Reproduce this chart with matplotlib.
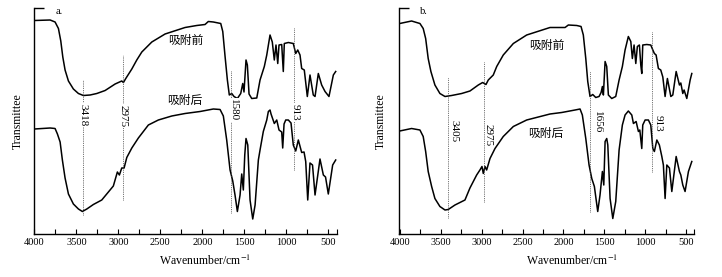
import matplotlib
matplotlib.use("Agg")
import matplotlib.pyplot as plt
from matplotlib.ticker import FixedLocator, NullFormatter

plt.rcParams['font.family'] = ['Liberation Serif', 'Noto Sans CJK SC']
plt.rcParams['mathtext.fontset'] = 'stix'

# ---- panel a: spectra (wavenumber / cm-1, transmittance in arbitrary units)
a_top_wn = [4000, 3813, 3754, 3714, 3686, 3662, 3635, 3595, 3536, 3476, 3417, 3337, 3257,
            3158, 3039, 2960, 2940, 2912, 2840, 2781, 2721, 2602, 2444, 2206, 2067, 1968,
            1929, 1869, 1781, 1757, 1730, 1702, 1679, 1650, 1623, 1583, 1543, 1519, 1504,
            1480, 1464, 1444, 1412, 1352, 1313, 1262, 1233, 1194, 1167, 1143, 1123, 1102,
            1087, 1055, 1036, 1024, 976, 917, 888, 864, 837, 817, 786, 750, 718, 679, 658,
            619, 579, 539, 492, 440, 412]
a_top_t = [213, 213.5, 211.5, 205, 192.5, 176.5, 163.5, 152.5, 144.5, 140, 138, 138.5, 140,
           143, 149.5, 152.5, 151, 155, 164.5, 173.5, 181.5, 191.5, 199.5, 206, 208, 209,
           212, 211.5, 210, 202, 177.5, 153.5, 138.5, 140, 137, 135, 140, 150, 141.5,
           173.5, 168.5, 139.5, 135, 135.5, 153.5, 167, 178.5, 198.5, 191.5, 173.5, 188.5, 170,
           188.5, 189, 162, 190, 191, 190, 180, 183.5, 178.5, 165, 163.5, 137, 158.5, 138.5, 137,
           160, 148.5, 142, 137, 158.5, 162]

a_bot_wn = [4000, 3813, 3754, 3726, 3694, 3667, 3635, 3595, 3536, 3476, 3429, 3376, 3298,
            3198, 3119, 3060, 3012, 2988, 2960, 2932, 2900, 2840, 2762, 2643, 2524, 2364,
            2206, 2027, 1869, 1789, 1750, 1710, 1670, 1638, 1611, 1583, 1551, 1531, 1512,
            1495, 1480, 1459, 1432, 1400, 1372, 1333, 1313, 1274, 1233, 1214, 1194, 1182,
            1143, 1114, 1087, 1055, 1043, 1027, 1007, 976, 944, 917, 888, 857, 817, 789, 769,
            745, 718, 688, 658, 599, 559, 533, 500, 448, 412]
a_bot_t = [104.5, 105.5, 105, 99.5, 91.5, 73.5, 55.5, 39.5, 29.5, 24.5, 22, 24.5, 29,
           33.5, 41.5, 47.5, 61.5, 58.5, 65.5, 65.5, 76, 85.5, 95.5, 108.5, 113.5, 117.5,
           120, 122, 124.5, 124, 117.5, 93.5, 63.5, 52.5, 38.5, 22, 38.5, 59.5, 43.5,
           78.5, 95, 88.5, 33.5, 14.5, 28.5, 73.5, 83.5, 102, 113.5, 122, 123.5, 119.5,
           110, 113.5, 103.5, 101.5, 85.5, 109.5, 113.5, 113.5, 110.5, 88.5, 82.5, 93.5, 81, 81.5, 72,
           33.5, 70.5, 68.5, 38.5, 74.5, 58.5, 56.5, 39.5, 68.5, 73.5]

# ---- panel b
b_top_wn = [4000, 3855, 3753, 3713, 3683, 3652, 3619, 3570, 3509, 3447, 3366, 3243, 3142,
            3040, 2987, 2946, 2918, 2857, 2815, 2735, 2612, 2449, 2164, 1980, 1940, 1837,
            1785, 1757, 1727, 1703, 1675, 1642, 1605, 1565, 1540, 1524, 1512, 1491, 1471,
            1451, 1410, 1361, 1320, 1280, 1247, 1207, 1177, 1158, 1137, 1116, 1097, 1072,
            1055, 1043, 1031, 982, 933, 908, 889, 868, 840, 811, 786, 758, 730, 688, 664,
            623, 583, 566, 542, 526, 493, 452, 432]
b_top_t = [210, 212.5, 210, 205, 195, 175, 162, 148.5, 140, 137, 138, 140, 142.5,
           148.5, 151, 149, 153.5, 158.5, 167, 178.5, 190, 198.5, 206, 206, 208.5, 208,
           207, 198.5, 175, 152, 137, 139, 136, 137, 141, 147, 138.5, 172, 167,
           138.5, 135, 137, 153.5, 167, 183.5, 197, 192, 175, 188.5, 170, 187, 188.5,
           168.5, 160, 188.5, 189, 188.5, 183.5, 180, 178.5, 165, 163.5, 156.5, 137, 155, 137, 138.5,
           162, 148.5, 150.5, 140, 143.5, 135, 153.5, 160]

b_bot_wn = [4000, 3855, 3753, 3713, 3683, 3652, 3610, 3570, 3509, 3447, 3407, 3325, 3203,
            3142, 3060, 3020, 2995, 2979, 2958, 2938, 2897, 2836, 2735, 2612, 2449, 2164,
            2021, 1858, 1797, 1769, 1727, 1687, 1654, 1622, 1581, 1553, 1524, 1507, 1491,
            1471, 1458, 1430, 1397, 1361, 1320, 1280, 1247, 1207, 1165, 1145, 1112, 1084,
            1067, 1043, 1031, 1002, 962, 933, 908, 889, 859, 828, 798, 779, 758, 737, 705,
            676, 623, 583, 566, 542, 514, 473, 432]
b_bot_t = [102.5, 105, 103.5, 97, 82, 62, 47, 35, 27, 23.5, 24, 28.5, 33.5,
           45.5, 58.5, 63.5, 67, 60, 67, 63.5, 75, 85, 97, 107, 113.5, 119.5,
           121, 123.5, 124.5, 118.5, 95, 68.5, 55, 47, 22, 38.5, 62, 48.5, 92,
           95, 88.5, 35, 15, 32, 83.5, 108.5, 118.5, 122.5, 118.5, 110, 112, 102,
           103.5, 85, 108.5, 113.5, 113.5, 108.5, 85, 82, 93.5, 88.5, 77, 68.5, 35, 68.5, 65.5,
           42, 77, 62, 58.5, 48.5, 42, 62, 72]

# peak marker lines: position, bottom, top
a_peak_wn = [3418, 2945, 1660, 913]
a_peak_lo = [18.5, 33.5, 20.5, 63.5]
a_peak_hi = [153.5, 178.5, 163.5, 206.5]
a_peak_txt = ['3418', '2975', '1580', '913']
a_txt_wn = [3418, 2945, 1628, 896]
a_txt_t = [118.5, 117.5, 123.5, 121.5]

b_peak_wn = [3405, 2975, 1675, 913]
b_peak_lo = [15.5, 31.5, 21.5, 61.5]
b_peak_hi = [156.5, 171.5, 162.5, 201.5]
b_peak_txt = ['3405', '2975', '1656', '913']
b_txt_wn = [3341, 2916, 1589, 843]
b_txt_t = [102.5, 98.5, 111.5, 110.5]

major = [4000, 3500, 3000, 2500, 2000, 1500, 1000, 500]
minor_ticks = [3750, 3250, 2750, 2250, 1750, 1250, 750]

fig = plt.figure(figsize=(7.22, 2.77), dpi=100)


def draw_panel(rect, xlim, top, bot, peaks, tag, tag_wn, before_pos, after_pos,
               bbox_txt, xlabel_x, ylabel_x):
    ax = fig.add_axes(rect)
    ax.plot(top[0], top[1], color='black', lw=1.1)
    ax.plot(bot[0], bot[1], color='black', lw=1.1)
    for wn, lo, hi, txt, twn, tt in zip(*peaks):
        ax.plot([wn, wn], [lo, hi], color='#444444', lw=0.6, ls=(0, (1, 1.2)))
        kw = dict(rotation=270, ha='center', va='center', fontsize=8)
        if bbox_txt:
            kw['bbox'] = dict(facecolor='white', edgecolor='none', pad=0.3)
        ax.text(twn, tt, txt, **kw)
    ax.text(tag_wn, 221.5, tag, fontsize=7.5, ha='left', va='center')
    for pos, s in ((before_pos, '吸附前'), (after_pos, '吸附后')):
        ax.text(pos[0], pos[1], s, fontsize=8.5, ha='center', va='center',
                family=['Noto Sans CJK SC'], fontweight='light')

    ax.set_xlim(*xlim)
    ax.set_ylim(0, 225.5)
    ax.spines['top'].set_visible(False)
    ax.spines['right'].set_visible(False)
    for s in ('left', 'bottom'):
        ax.spines[s].set_linewidth(1.0)
    ax.xaxis.set_major_locator(FixedLocator(major))
    ax.xaxis.set_minor_locator(FixedLocator(minor_ticks + [xlim[1]]))
    ax.xaxis.set_minor_formatter(NullFormatter())
    ax.tick_params(axis='x', which='both', direction='in', length=3.5, width=0.8,
                   labelsize=7.5, pad=3)
    ax.set_yticks([225.5])
    ax.set_yticklabels([])
    ax.tick_params(axis='y', direction='in', length=7, width=1.0)
    ax.set_xlabel(r'Wavenumber/cm$^{-1}$', fontsize=8.5)
    ax.xaxis.set_label_coords(xlabel_x, -0.088)
    ax.set_ylabel('Transmittee', fontsize=8.5)
    ax.yaxis.set_label_coords(ylabel_x, 0.5)
    return ax


draw_panel([34 / 722, 43.5 / 277, 302.7 / 722, 225.5 / 277], (4005, 400),
           (a_top_wn, a_top_t), (a_bot_wn, a_bot_t),
           (a_peak_wn, a_peak_lo, a_peak_hi, a_peak_txt, a_txt_wn, a_txt_t),
           'a.', 3750, (2194, 193.5), (2206, 133.5), True, 0.565, -0.033)

draw_panel([399.3 / 722, 43.5 / 277, 294.7 / 722, 225.5 / 277], (4005, 405),
           (b_top_wn, b_top_t), (b_bot_wn, b_bot_t),
           (b_peak_wn, b_peak_lo, b_peak_hi, b_peak_txt, b_txt_wn, b_txt_t),
           'b.', 3753, (2200, 188.5), (2213, 100.5), False, 0.585, -0.042)

fig.savefig('out.png', dpi=100)
